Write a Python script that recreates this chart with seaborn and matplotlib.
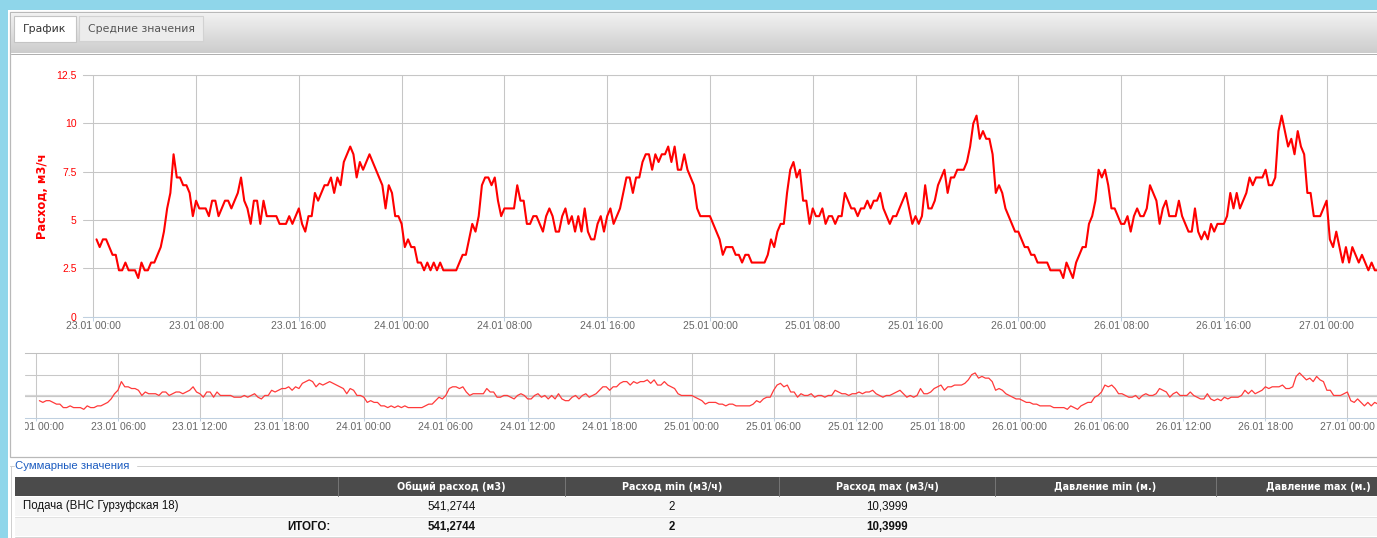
import numpy as np
import pandas as pd
import matplotlib
matplotlib.use("Agg")
import matplotlib.pyplot as plt
import matplotlib.dates as mdates
from matplotlib.patches import Rectangle
from matplotlib.lines import Line2D
from matplotlib.transforms import Bbox, TransformedBbox
import seaborn as sns

# ---------------- data (15-minute readings, m3/h) ----------------
series_start = "2017-01-23 00:15"
axis_origin = "2017-01-23 00:00"

flow_23jan = [
    4.0, 3.6, 4.0,            # 00:15-00:45
    4.0, 3.6, 3.2, 3.2,
    2.4, 2.4, 2.8, 2.4,
    2.4, 2.4, 2.0, 2.8,
    2.4, 2.4, 2.8, 2.8,
    3.2, 3.6, 4.4, 5.6,
    6.4, 8.4, 7.2, 7.2,
    6.8, 6.8, 6.4, 5.2,
    6.0, 5.6, 5.6, 5.6,
    5.2, 6.0, 6.0, 5.2,
    5.6, 6.0, 6.0, 5.6,
    6.0, 6.4, 7.2, 6.0,
    5.6, 4.8, 6.0, 6.0,
    4.8, 6.0, 5.2, 5.2,
    5.2, 5.2, 4.8, 4.8,
    4.8, 5.2, 4.8, 5.2,
    5.6, 4.8, 4.4, 5.2,
    5.2, 6.4, 6.0, 6.4,
    6.8, 6.8, 7.2, 6.4,
    7.2, 6.8, 8.0, 8.4,
    8.8, 8.4, 7.2, 8.0,
    7.6, 8.0, 8.4, 8.0,
    7.6, 7.2, 6.8, 5.6,
    6.8, 6.4, 5.2, 5.2,
]
flow_24jan = [
    4.8, 3.6, 4.0, 3.6,
    3.6, 2.8, 2.8, 2.4,
    2.8, 2.4, 2.8, 2.4,
    2.8, 2.4, 2.4, 2.4,
    2.4, 2.4, 2.8, 3.2,
    3.2, 4.0, 4.8, 4.4,
    5.2, 6.8, 7.2, 7.2,
    6.8, 7.2, 6.0, 5.2,
    5.6, 5.6, 5.6, 5.6,
    6.8, 6.0, 6.0, 4.8,
    4.8, 5.2, 5.2, 4.8,
    4.4, 5.2, 5.6, 5.2,
    4.4, 4.4, 5.2, 5.6,
    4.8, 5.2, 4.4, 5.2,
    4.4, 5.6, 4.4, 4.0,
    4.0, 4.8, 5.2, 4.4,
    5.2, 5.6, 4.8, 5.2,
    5.6, 6.4, 7.2, 7.2,
    6.4, 7.2, 7.2, 8.0,
    8.4, 8.4, 7.6, 8.4,
    8.0, 8.4, 8.4, 8.8,
    8.0, 8.8, 7.6, 7.6,
    8.4, 7.6, 7.2, 6.8,
    5.6, 5.2, 5.2, 5.2,
]
flow_25jan = [
    5.2, 4.8, 4.4, 4.0,
    3.2, 3.6, 3.6, 3.6,
    3.2, 3.2, 2.8, 3.2,
    3.2, 2.8, 2.8, 2.8,
    2.8, 2.8, 3.2, 4.0,
    3.6, 4.4, 4.8, 4.8,
    6.4, 7.6, 8.0, 7.2,
    7.6, 6.0, 6.0, 4.8,
    5.6, 5.2, 5.2, 5.6,
    4.8, 5.2, 5.2, 4.8,
    5.2, 5.2, 6.4, 6.0,
    5.6, 5.6, 5.2, 5.6,
    5.6, 6.0, 5.6, 6.0,
    6.0, 6.4, 5.6, 5.2,
    4.8, 5.2, 5.2, 5.6,
    6.0, 6.4, 5.6, 4.8,
    5.2, 4.8, 5.2, 6.8,
    5.6, 5.6, 6.0, 6.8,
    7.2, 7.6, 6.4, 7.2,
    7.2, 7.6, 7.6, 7.6,
    8.0, 8.8, 10.0, 10.4,
    9.2, 9.6, 9.2, 9.2,
    8.4, 6.4, 6.8, 6.4,
    5.6, 5.2, 4.8, 4.4,
]
flow_26jan = [
    4.4, 4.0, 3.6, 3.6,
    3.2, 3.2, 2.8, 2.8,
    2.8, 2.8, 2.4, 2.4,
    2.4, 2.4, 2.0, 2.8,
    2.4, 2.0, 2.8, 3.2,
    3.6, 3.6, 4.8, 5.2,
    6.0, 7.6, 7.2, 7.6,
    6.8, 5.6, 5.6, 5.2,
    4.8, 4.8, 5.2, 4.4,
    5.2, 5.6, 5.2, 5.2,
    5.6, 6.8, 6.4, 6.0,
    4.8, 5.6, 6.0, 5.2,
    5.2, 5.2, 6.0, 5.2,
    4.8, 4.4, 4.4, 5.6,
    4.4, 4.0, 4.4, 4.0,
    4.8, 4.4, 4.8, 4.8,
    4.8, 5.2, 6.4, 5.6,
    6.4, 5.6, 6.0, 6.4,
    7.2, 6.8, 7.2, 7.2,
    7.2, 7.6, 6.8, 6.8,
    7.2, 9.6, 10.4, 9.6,
    8.8, 9.2, 8.4, 9.6,
    8.8, 8.4, 6.4, 6.4,
    5.2, 5.2, 5.2, 5.6,
]
flow_27jan = [
    6.0, 4.0, 3.6, 4.4,
    3.6, 2.8, 3.6, 2.8,
    3.6, 3.2, 2.8, 3.2,
    2.8, 2.4, 2.8, 2.4,
    2.4,
]

y_ticks = [0, 2.5, 5, 7.5, 10, 12.5]
y_tick_labels = ["0", "2.5", "5", "7.5", "10", "12.5"]
y_title = "Расход, м3/ч"
tab_labels = ["График", "Средние значения"]
summary_title = "Суммарные значения"
table_columns = ["", "Общий расход (м3)", "Расход min (м3/ч)", "Расход max (м3/ч)",
                 "Давление min (м.)", "Давление max (м.)"]
row_supply = ["Подача (ВНС Гурзуфская 18)", "541,2744", "2", "10,3999", "", ""]
row_total = ["ИТОГО:", "541,2744", "2", "10,3999", "", ""]

values = flow_23jan + flow_24jan + flow_25jan + flow_26jan + flow_27jan
times = pd.date_range(series_start, periods=len(values), freq="15min")
df = pd.DataFrame({"time": times, "flow": values})

# ---------------- figure ----------------
sns.set_theme(style="white")
plt.rcParams["font.family"] = ["Liberation Sans", "DejaVu Sans"]

W, H = 1377, 538
fig = plt.figure(figsize=(W / 100, H / 100), dpi=100)
fig.patch.set_facecolor("#8fd6ea")


def fx(px):
    return px / W


def fy(py):
    return 1 - py / H


def box(x0, y0, x1, y1, fc, ec="none", lw=0.0, z=-5):
    fig.add_artist(Rectangle((fx(x0), fy(y1)), fx(x1) - fx(x0), fy(y0) - fy(y1),
                             transform=fig.transFigure, facecolor=fc, edgecolor=ec,
                             linewidth=lw, zorder=z))


def hline(y, x0, x1, color, lw=1.0, z=-4):
    fig.add_artist(Line2D([fx(x0), fx(x1)], [fy(y), fy(y)], transform=fig.transFigure,
                          color=color, linewidth=lw * 0.72, zorder=z))


def vline(x, y0, y1, color, lw=1.0, z=-4):
    fig.add_artist(Line2D([fx(x), fx(x)], [fy(y0), fy(y1)], transform=fig.transFigure,
                          color=color, linewidth=lw * 0.72, zorder=z))


def ftext(x, y, s, **kw):
    fig.text(fx(x), fy(y), s, **kw)


# page background
box(8, 10, W + 5, H + 5, "white", z=-10)
# chart panel
box(10, 12, W + 5, 457, "white", ec="#b9b9b9", lw=0.9, z=-9)
# tab header band (vertical gradient)
top_c = np.array([0.945, 0.945, 0.945])
bot_c = np.array([0.80, 0.80, 0.80])
for i in range(40):
    c = top_c + (bot_c - top_c) * i / 39
    box(11, 13 + i, W + 5, 14 + i, tuple(c), z=-8)
hline(53.5, 11, W + 5, "#b0b0b0", z=-7)
# tabs
box(14, 16, 76, 42, "white", ec="#c4c4c4", lw=0.8, z=-6)
box(79, 16, 203, 41, "#ececec", ec="#d2d2d2", lw=0.8, z=-6)
ftext(45, 29.5, tab_labels[0], ha="center", va="center", fontsize=7.8,
      color="#333333", family=["DejaVu Sans"])
ftext(141, 29.5, tab_labels[1], ha="center", va="center", fontsize=7.8,
      color="#555555", family=["DejaVu Sans"])

# ---------------- main chart ----------------
t0 = pd.Timestamp(axis_origin)
ax = fig.add_axes([fx(83), fy(316.7), fx(W) - fx(83), fy(75) - fy(316.7)])
ax.set_facecolor("none")
sns.lineplot(data=df, x="time", y="flow", ax=ax, color="#ff0000", linewidth=1.5,
             zorder=3, legend=False)
ax.set_xlim(t0 - pd.Timedelta(hours=0.80), t0 + pd.Timedelta(hours=99.92))
ax.set_ylim(0, 12.5)
ax.set_xticks(pd.date_range(t0, periods=13, freq="8h"))
ax.xaxis.set_major_formatter(mdates.DateFormatter("%d.%m %H:%M"))
ax.set_yticks(y_ticks)
ax.set_yticklabels(y_tick_labels)
ax.grid(True, color="#c6c6c6", linewidth=0.75)
ax.set_axisbelow(True)
for s in ["right", "left"]:
    ax.spines[s].set_visible(False)
ax.spines["top"].set_color("#c6c6c6")
ax.spines["top"].set_linewidth(0.75)
ax.spines["bottom"].set_color("#c0d0e0")
ax.spines["bottom"].set_linewidth(0.75)
ax.tick_params(axis="x", bottom=True, length=2.9, width=0.75, color="#c0d0e0", pad=0.5,
               labelsize=7.5, labelcolor="#666666")
ax.tick_params(axis="y", left=False, length=0, pad=4.5, labelsize=7.5, labelcolor="#ff0000")
ax.set_xlabel("")
ax.set_ylabel(y_title, color="#ff0000", fontsize=8.3, fontweight="bold", family=["DejaVu Sans"])
ax.yaxis.label.set_verticalalignment("center")
ax.yaxis.set_label_coords((42 - 83) / (W - 83), 0.5)

# ---------------- navigator ----------------
nav = fig.add_axes([fx(25), fy(418), fx(W) - fx(25), fy(353) - fy(418)])
nav.set_facecolor("none")
sns.lineplot(data=df, x="time", y="flow", ax=nav, color="#ff3a3a", linewidth=0.9,
             zorder=3, legend=False)
nav.set_xlim(t0 - pd.Timedelta(hours=0.805), t0 + pd.Timedelta(hours=98.17))
nav.set_ylim(0, 15)
nav.set_yticks([5, 10])
nav.set_xticks(pd.date_range(t0, periods=17, freq="6h"))
nav.xaxis.set_major_formatter(mdates.DateFormatter("%d.%m %H:%M"))
nav.grid(True, color="#c8c8c8", linewidth=0.75)
nav.axhline(5, color="#d6d6d6", linewidth=1.6, zorder=0.5)
nav.set_axisbelow(True)
for s in ["right", "left"]:
    nav.spines[s].set_visible(False)
nav.spines["top"].set_color("#c0c0c0")
nav.spines["top"].set_linewidth(0.75)
nav.spines["bottom"].set_color("#c0d0e0")
nav.spines["bottom"].set_linewidth(0.75)
nav.tick_params(axis="x", bottom=True, length=2.2, width=0.75, color="#c0d0e0", pad=0.8,
                labelsize=7.5, labelcolor="#666666")
nav.tick_params(axis="y", left=False, labelleft=False, length=0)
nav.set_xlabel("")
nav.set_ylabel("")
clip = TransformedBbox(Bbox([[fx(25), 0], [1, 1]]), fig.transFigure)
for lab in nav.get_xticklabels():
    lab.set_clip_box(clip)
    lab.set_clip_on(True)

# ---------------- summary table ----------------
vline(10.5, 466, H + 2, "#d0d0d0")
hline(466, 10, 14, "#d0d0d0")
hline(466, 137, W + 5, "#d0d0d0")
ftext(15, 466, summary_title, ha="left", va="center", fontsize=8.2, color="#1c5cc0")

col_edges = [15, 338, 565, 779, 995, 1216, 1420]
box(15, 477, W + 5, 496, "#4b4b4b", z=-5)
for xe in col_edges[1:-1]:
    vline(xe, 477, 496, "#747474", z=-4)
box(15, 497, W + 5, 516, "#f6f6f6", z=-5)
box(15, 517, W + 5, 536, "#f6f6f6", z=-5)
hline(516.5, 15, W + 5, "#e2e2e2")
hline(536.5, 15, W + 5, "#d6d6d6")

for i, lab in enumerate(table_columns):
    if lab:
        cx = (col_edges[i] + col_edges[i + 1]) / 2
        ftext(cx, 486.5, lab, ha="center", va="center", fontsize=6.9,
              fontweight="bold", color="white", family=["DejaVu Sans"])

ftext(23, 506.5, row_supply[0], ha="left", va="center", fontsize=8.3, color="#111111")
ftext(330, 526.5, row_total[0], ha="right", va="center", fontsize=8.3,
      fontweight="bold", color="#111111")
for i in range(1, len(table_columns)):
    cx = (col_edges[i] + col_edges[i + 1]) / 2
    if row_supply[i]:
        ftext(cx, 506.5, row_supply[i], ha="center", va="center", fontsize=8.3, color="#111111")
    if row_total[i]:
        ftext(cx, 526.5, row_total[i], ha="center", va="center", fontsize=8.3,
              fontweight="bold", color="#111111")

fig.savefig("out.png", dpi=100)
